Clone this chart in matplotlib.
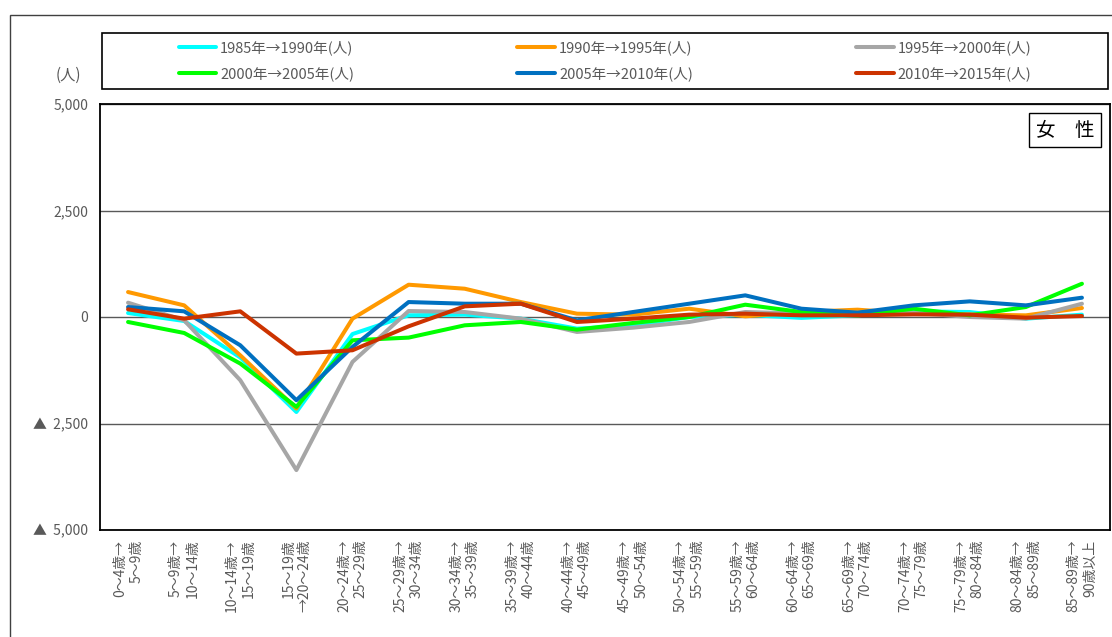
import numpy as np
import matplotlib.pyplot as plt
from matplotlib.patches import Rectangle

plt.rcParams['font.family'] = ['Noto Sans CJK JP', 'DejaVu Sans']

# Altersklassen (Übergang zwischen zwei Zählungen)
categories = [
    "0～4歳→\n5～9歳", "5～9歳→\n10～14歳", "10～14歳→\n15～19歳",
    "15～19歳\n→20～24歳", "20～24歳→\n25～29歳", "25～29歳→\n30～34歳",
    "30～34歳→\n35～39歳", "35～39歳→\n40～44歳", "40～44歳→\n45～49歳",
    "45～49歳→\n50～54歳", "50～54歳→\n55～59歳", "55～59歳→\n60～64歳",
    "60～64歳→\n65～69歳", "65～69歳→\n70～74歳", "70～74歳→\n75～79歳",
    "75～79歳→\n80～84歳", "80～84歳→\n85～89歳", "85～89歳→\n90歳以上",
]

s1985 = [94, -94, -950, -2230, -400, 40, 55, -39, -273, -200, 0, 50, -20, 40, 133, 117, -39, 55]
s1990 = [586, 273, -900, -2150, -39, 758, 664, 351, 78, 55, 195, 16, 117, 172, 78, 60, 39, 211]
s1995 = [336, -78, -1484, -3593, -1054, 140, 117, -39, -351, -250, -117, 117, 80, 100, 100, 0, -39, 312]
s2000 = [-117, -375, -1093, -2109, -547, -484, -195, -117, -297, -140, 0, 289, 117, 39, 195, 39, 234, 781]
s2005 = [234, 133, -664, -1953, -703, 351, 312, 312, -78, 117, 312, 508, 195, 102, 273, 367, 273, 453]
s2010 = [180, -39, 133, -859, -781, -219, 250, 312, -117, -39, 55, 78, 39, 39, 62, 55, -16, 23]

series = [
    ("1985年→1990年(人)", s1985, "#00FFFF"),
    ("1990年→1995年(人)", s1990, "#FF9900"),
    ("1995年→2000年(人)", s1995, "#A6A6A6"),
    ("2000年→2005年(人)", s2000, "#00FF00"),
    ("2005年→2010年(人)", s2005, "#0070C0"),
    ("2010年→2015年(人)", s2010, "#CC3300"),
]

yticks = [-5000, -2500, 0, 2500, 5000]
yticklabels = ["▲  5,000", "▲  2,500", "0", "2,500", "5,000"]

W, H = 1112, 637
fig = plt.figure(figsize=(W / 100, H / 100), dpi=100)
ax = fig.add_axes([100 / W, 107 / H, 1010 / W, 426 / H])

x = np.arange(len(categories))
handles = []
for name, vals, col in series:
    ln, = ax.plot(x, vals, color=col, lw=2.9, label=name, solid_capstyle="round")
    handles.append(ln)

ax.set_xlim(-0.5, len(categories) - 0.5)
ax.set_ylim(-5000, 5000)
ax.set_yticks(yticks)
ax.set_yticklabels(yticklabels, fontsize=10, color="#595959")
ax.set_xticks(x)
ax.set_xticklabels(categories, rotation=90, fontsize=10, color="#595959",
                   ma="right", linespacing=1.2)
ax.tick_params(axis="both", length=0)
ax.tick_params(axis="y", pad=8.5)
ax.tick_params(axis="x", pad=7)
ax.grid(axis="y", color="#595959", lw=1)
ax.set_axisbelow(True)
for sp in ax.spines.values():
    sp.set_color("black")
    sp.set_linewidth(1.3)

# Einheit
fig.text(68 / W, 1 - 75 / H, "(人)", fontsize=11, color="#595959",
         ha="center", va="center")

# Kasten "女 性"
fig.text(1065 / W, 1 - 130 / H, "女　性", fontsize=14, color="black",
         ha="center", va="center",
         bbox=dict(boxstyle="square,pad=0.35", fc="white", ec="black", lw=1))

# Legende zeilenweise (matplotlib füllt spaltenweise)
order = [0, 3, 1, 4, 2, 5]
fig.add_artist(Rectangle((102 / W, 1 - 89 / H), 1006 / W, 56 / H,
                         transform=fig.transFigure, fill=False,
                         ec="black", lw=1.2))
leg = fig.legend(handles=[handles[i] for i in order], loc="center", ncol=3,
                 frameon=False, bbox_to_anchor=(605 / W, 1 - 61 / H),
                 fontsize=10.5, handlelength=2.6, handletextpad=0.25,
                 columnspacing=11.2, labelspacing=0.75)
for t in leg.get_texts():
    t.set_color("#595959")

# äußerer Rahmen des Diagrammbereichs
fig.add_artist(Rectangle((10 / W, -0.1), 1.2, (H - 15) / H + 0.1,
                         transform=fig.transFigure, fill=False,
                         ec="#404040", lw=1))

fig.savefig("out.png", dpi=100)
